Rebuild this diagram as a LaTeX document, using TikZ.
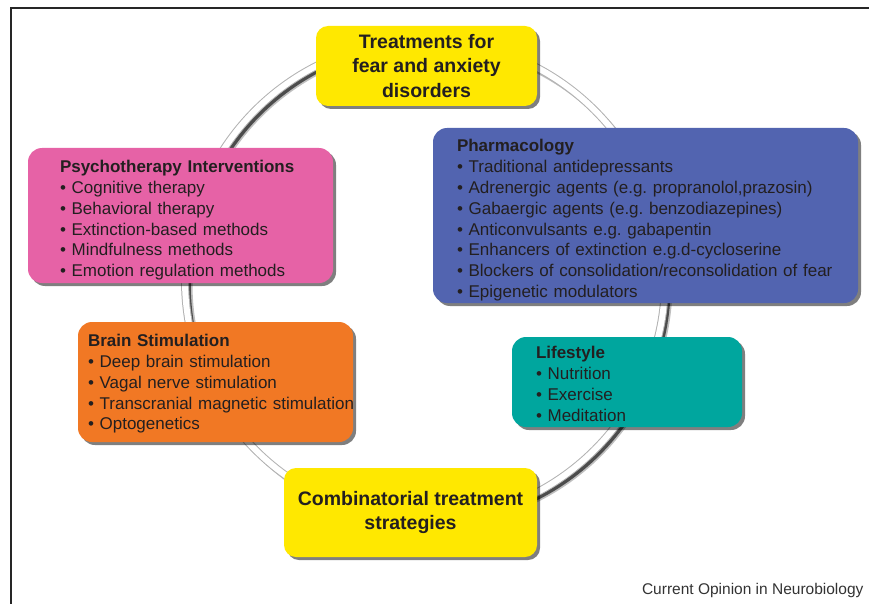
\documentclass[tikz,border=0pt]{standalone}
\usepackage{fontspec}
\setmainfont{Liberation Sans}
\frenchspacing
\usetikzlibrary{shadows}
\definecolor{boxyellow}{RGB}{255,232,0}
\definecolor{boxpink}{RGB}{230,98,166}
\definecolor{boxblue}{RGB}{82,100,176}
\definecolor{boxorange}{RGB}{241,120,36}
\definecolor{boxteal}{RGB}{0,166,158}
\definecolor{inkdark}{RGB}{35,31,32}
\newcommand{\lead}[1]{\rule{0pt}{#1}}% pushes a box's text down a little

\begin{document}
\begin{tikzpicture}
    [x=1pt,y=-1pt,
     panel/.style={rounded corners=14pt,text=inkdark,align=left,inner sep=0pt,
        font=\fontsize{17}{20.8}\selectfont,
        drop shadow={shadow xshift=3pt,shadow yshift=-3pt,fill=black,opacity=.5}},
     hub/.style={panel,fill=boxyellow,align=center,rounded corners=12pt,
        font=\bfseries\fontsize{19.5}{24.5}\selectfont},
     ring/.style={line width=#1}]

    \def\ringx{425}
    \def\ringy{280}
    \def\ringr{240pt}

    % frame
    \draw[line width=1.2pt,black!85] (11,604) -- (11,8) -- (869,8);

    % ring behind the boxes
    \draw[ring=7pt,black!25] (\ringx+4,\ringy+4) circle (\ringr);
    \draw[ring=3.5pt,black!70] (\ringx+4,\ringy+4) circle (\ringr);
    \draw[ring=8pt,black!30] (\ringx,\ringy) circle (\ringr);
    \draw[ring=6pt,white] (\ringx,\ringy) circle (\ringr);

    \node[hub,minimum width=221pt,minimum height=80pt] (top) at (426.5,66)
        {Treatments for\\fear and anxiety\\disorders};

    \node[panel,fill=boxpink,minimum width=305pt,minimum height=135pt,text width=241pt] (psycho) at (180.5,215.5)
        {\lead{22pt}\textbf{Psychotherapy Interventions}\\
         • Cognitive therapy\\
         • Behavioral therapy\\
         • Extinction-based methods\\
         • Mindfulness methods\\
         • Emotion regulation methods};

    \node[panel,fill=boxblue,minimum width=425pt,minimum height=175pt,text width=377pt] (pharma) at (645.5,215.5)
        {\lead{22pt}\textbf{Pharmacology}\\
         • Traditional antidepressants\\
         • Adrenergic agents (e.g. propranolol,prazosin)\\
         • Gabaergic agents (e.g. benzodiazepines)\\
         • Anticonvulsants e.g. gabapentin\\
         • Enhancers of extinction e.g.d-cycloserine\\
         • Blockers of consolidation/reconsolidation of fear\\
         • Epigenetic modulators};

    \node[panel,fill=boxorange,minimum width=275pt,minimum height=120pt,text width=255pt] (brain) at (215.5,382)
        {\lead{16pt}\textbf{Brain Stimulation}\\
         • Deep brain stimulation\\
         • Vagal nerve stimulation\\
         \mbox{• Transcranial magnetic stimulation}\\
         • Optogenetics};

    \node[panel,fill=boxteal,minimum width=230pt,minimum height=90pt,text width=182pt] (life) at (627,382)
        {\lead{16pt}\textbf{Lifestyle}\\
         • Nutrition\\
         • Exercise\\
         • Meditation};

    \node[hub,minimum width=253pt,minimum height=89pt,font=\bfseries\fontsize{19.5}{23.5}\selectfont] (combo) at (410.5,512.5)
        {Combinatorial treatment\\strategies};

    \node[anchor=east,font=\fontsize{15.5}{18}\selectfont,text=black!80] (journal) at (867,590)
        {Current Opinion in Neurobiology};

    \pgfresetboundingbox
    \useasboundingbox (0,0) rectangle (869,604);
\end{tikzpicture}
\end{document}
